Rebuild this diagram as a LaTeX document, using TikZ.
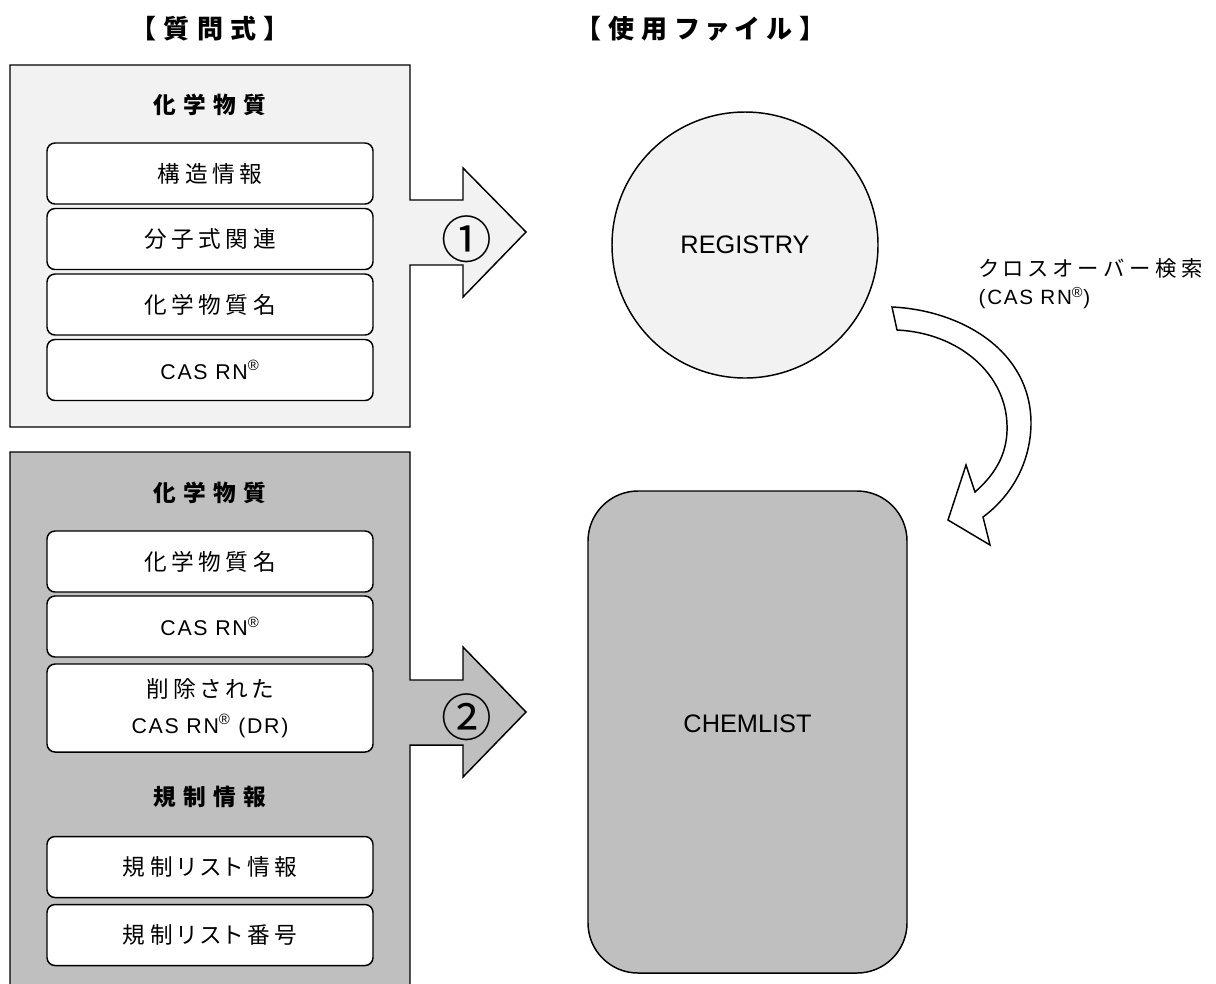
\documentclass[tikz,border=0pt]{standalone}
\usepackage{fontspec}
\setmainfont{Liberation Sans}
\newfontfamily\lat{Liberation Sans}[LetterSpace=8]
\newfontfamily\latb{Liberation Sans}
\newfontfamily\jpn{Noto Sans CJK JP}[RawFeature=+palt, LetterSpace=20]
\newfontfamily\jpc{Noto Sans CJK JP}[RawFeature=+palt, LetterSpace=24]
\newfontfamily\jph{Noto Sans CJK JP}[RawFeature=+palt, LetterSpace=32]
\newfontfamily\jpt{Noto Sans CJK JP}[RawFeature=+palt, LetterSpace=30]
\newfontfamily\jpnum{Noto Sans CJK JP}
\definecolor{lg}{HTML}{F2F2F2}
\definecolor{mg}{HTML}{BFBFBF}
\tikzset{
  ibox/.style={draw, fill=white, rounded corners=6pt, minimum width=244.5pt,
    minimum height=45.75pt, inner sep=0pt, font={\jpn\fontsize{17}{20}\selectfont}},
  hd/.style={inner sep=0pt, font={\jph\bfseries\fontsize{17}{20}\selectfont}},
  ttl/.style={inner sep=0pt, font={\jpt\bfseries\fontsize{19.5}{22}\selectfont}},
  circnum/.style={inner sep=0pt, font={\jpnum\fontsize{38}{40}\selectfont}},
  bigtxt/.style={font={\latb\fontsize{19}{22}\selectfont}}
}
\newcommand{\casrn}{{\lat CAS RN\textsuperscript{®}}}
\begin{document}
\begin{tikzpicture}[x=0.75pt,y=-0.75pt,line width=1.1pt]
\useasboundingbox (0,0) rectangle (1216,983);
\clip (0,0) rectangle (1216,983);
\fill[white] (0,0) rectangle (1216,983);
% titles
\node[ttl] (tq) at (210,29) {【質問式】};
\node[ttl] (tf) at (700,29) {【使用ファイル】};
% box 1 with arrow
\draw[fill=lg] (10,65) -- (410,65) -- (410,200) -- (463,200) -- (463,168) -- (526,232)
  -- (463,297) -- (463,265) -- (410,265) -- (410,427) -- (10,427) -- cycle;
% box 2 with arrow
\draw[fill=mg] (10,452) -- (410,452) -- (410,680) -- (463,680) -- (463,647) -- (526,712)
  -- (463,777) -- (463,745) -- (410,745) -- (410,1000) -- (10,1000) -- cycle;
\node[circnum] (n1) at (467,239) {①};
\node[circnum] (n2) at (467,717) {②};
% box 1 contents
\node[hd] (h1) at (210,105) {化学物質};
\node[ibox] (a1) at (210,173.5) {構造情報};
\node[ibox] (a2) at (210,239) {分子式関連};
\node[ibox] (a3) at (210,304.5) {化学物質名};
\node[ibox, font={\lat\fontsize{16}{19}\selectfont}] (a4) at (210,370) {\casrn};
% box 2 contents
\node[hd] (h2) at (210,493) {化学物質};
\node[ibox] (b1) at (210,561.5) {化学物質名};
\node[ibox, font={\lat\fontsize{16}{19}\selectfont}] (b2) at (210,626.5) {\casrn};
\node[ibox, minimum height=66pt, align=center, font={\jpn\fontsize{17}{27}\selectfont}] (b3) at (210,708)
  {削除された\\{\lat\fontsize{16}{19}\selectfont CAS RN\textsuperscript{®} (DR)}};
\node[hd] (h3) at (210,797) {規制情報};
\node[ibox] (c1) at (210,867) {規制リスト情報};
\node[ibox] (c2) at (210,935) {規制リスト番号};
% files
\node[draw, circle, fill=lg, minimum size=199.5pt, inner sep=0pt, bigtxt] (reg) at (745,245) {REGISTRY};
\node[draw, fill=mg, rounded corners=37.5pt, minimum width=239.25pt, minimum height=361.5pt] (chem) at (747.5,732) {};
\node[bigtxt, inner sep=0pt] (chemt) at (747.5,724) {CHEMLIST};
% curved arrow
\draw[fill=white] (892,307) .. controls (960,310) and (1032,350) .. (1031,425)
  .. controls (1030,465) and (1010,497) .. (983,517) -- (990,545) -- (948,520) -- (966,465)
  -- (975,492) .. controls (998,472) and (1008,450) .. (1007,425)
  .. controls (1006,375) and (960,333) .. (897,330) -- cycle;
\node[anchor=west, inner sep=0pt, font={\jpc\fontsize{16}{19}\selectfont}] (cl1) at (978,268) {クロスオーバー検索};
\node[anchor=west, inner sep=0pt, font={\lat\fontsize{15.5}{18}\selectfont}] (cl2) at (978,298) {(CAS RN\textsuperscript{®})};
\end{tikzpicture}
\end{document}
